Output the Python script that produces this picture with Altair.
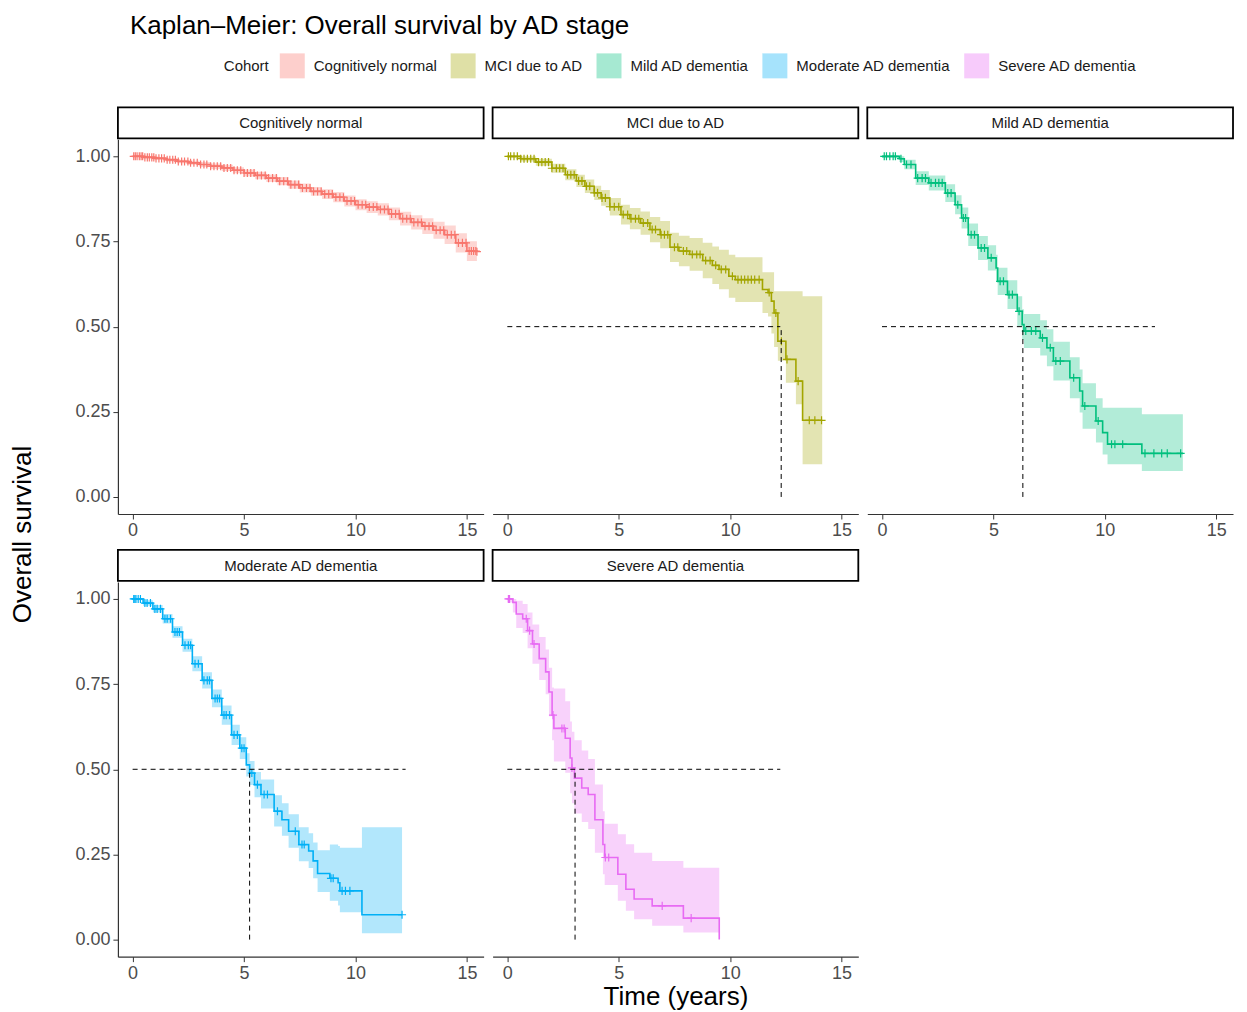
import altair as alt
import pandas as pd

FONT = "Liberation Sans"
COHORTS = ["Cognitively normal", "MCI due to AD", "Mild AD dementia",
           "Moderate AD dementia", "Severe AD dementia"]
COLORS = ["#F8766D", "#A3A500", "#00BF7D", "#00B0F6", "#E76BF3"]

# ---- Kaplan-Meier step curves: time, survival, lower CI, upper CI ----
cn_t = [0, 0.5, 1, 1.5, 2, 2.5, 3, 3.5, 4, 4.5, 5, 5.5, 6, 6.5, 7, 7.5, 8, 8.5, 9, 9.5,
        10, 10.5, 11, 11.5, 12, 12.5, 13, 13.5, 14, 14.5, 15, 15.45]
cn_s = [1.000, 0.997, 0.994, 0.990, 0.985, 0.981, 0.976, 0.971, 0.966, 0.959, 0.951, 0.944,
        0.936, 0.927, 0.917, 0.907, 0.897, 0.889, 0.880, 0.869, 0.858, 0.851, 0.844, 0.831,
        0.817, 0.806, 0.795, 0.783, 0.770, 0.746, 0.722, 0.720]
cn_lo = [0.998, 0.994, 0.990, 0.985, 0.980, 0.975, 0.969, 0.963, 0.957, 0.950, 0.941, 0.933,
         0.925, 0.915, 0.905, 0.894, 0.884, 0.875, 0.865, 0.853, 0.842, 0.834, 0.826, 0.812,
         0.797, 0.785, 0.772, 0.758, 0.743, 0.718, 0.693, 0.693]
cn_hi = [1.000, 1.000, 0.998, 0.995, 0.990, 0.987, 0.983, 0.979, 0.975, 0.968, 0.961, 0.955,
         0.947, 0.939, 0.929, 0.920, 0.910, 0.903, 0.895, 0.885, 0.874, 0.868, 0.862, 0.850,
         0.837, 0.827, 0.818, 0.808, 0.797, 0.774, 0.751, 0.751]

mci_t = [0, 0.6, 1.28, 2.0, 2.6, 3.1, 3.48, 3.9, 4.21, 4.6, 5.1, 5.5, 5.98, 6.4, 6.86, 7.3,
         7.7, 8.18, 8.77, 9.2, 9.5, 9.94, 10.23, 11.45, 11.7, 11.85, 11.97, 12.14, 12.5,
         12.95, 13.25, 14.13]
mci_s = [1.000, 0.993, 0.983, 0.965, 0.946, 0.928, 0.912, 0.893, 0.878, 0.852, 0.829, 0.817,
         0.804, 0.785, 0.770, 0.733, 0.722, 0.712, 0.694, 0.680, 0.668, 0.648, 0.638, 0.609,
         0.600, 0.575, 0.540, 0.457, 0.404, 0.340, 0.225, 0.225]
mci_lo = [0.995, 0.985, 0.972, 0.952, 0.930, 0.910, 0.892, 0.872, 0.855, 0.826, 0.800, 0.786,
          0.770, 0.748, 0.730, 0.690, 0.677, 0.664, 0.642, 0.625, 0.610, 0.585, 0.572, 0.540,
          0.530, 0.480, 0.440, 0.400, 0.335, 0.272, 0.096, 0.096]
mci_hi = [1.000, 1.000, 0.993, 0.978, 0.962, 0.946, 0.932, 0.914, 0.901, 0.878, 0.858, 0.848,
          0.838, 0.822, 0.810, 0.776, 0.767, 0.760, 0.746, 0.735, 0.726, 0.711, 0.704, 0.660,
          0.660, 0.660, 0.604, 0.604, 0.604, 0.604, 0.589, 0.589]

mild_t = [0, 0.78, 1.0, 1.51, 2.1, 2.84, 3.28, 3.57, 3.87, 4.31, 4.75, 5.12, 5.19, 5.63, 6.07,
          6.29, 6.37, 7.1, 7.4, 7.69, 8.43, 8.87, 9.0, 9.6, 9.9, 10.12, 11.66, 13.5]
mild_s = [1.000, 0.993, 0.976, 0.936, 0.922, 0.892, 0.858, 0.819, 0.770, 0.731, 0.702, 0.672,
          0.633, 0.594, 0.545, 0.506, 0.487, 0.467, 0.438, 0.399, 0.350, 0.311, 0.267, 0.223,
          0.189, 0.155, 0.128, 0.128]
mild_lo = [0.995, 0.983, 0.962, 0.916, 0.900, 0.866, 0.830, 0.788, 0.737, 0.696, 0.665, 0.633,
           0.593, 0.552, 0.501, 0.461, 0.437, 0.415, 0.384, 0.342, 0.290, 0.248, 0.200, 0.160,
           0.125, 0.096, 0.076, 0.076]
mild_hi = [1.000, 1.000, 0.990, 0.956, 0.944, 0.918, 0.886, 0.850, 0.803, 0.766, 0.739, 0.711,
           0.673, 0.636, 0.589, 0.551, 0.537, 0.519, 0.492, 0.456, 0.410, 0.374, 0.334, 0.290,
           0.262, 0.262, 0.243, 0.243]

mod_t = [0, 0.47, 0.91, 1.35, 1.79, 2.24, 2.68, 3.12, 3.56, 4.0, 4.44, 4.81, 5.1, 5.25, 5.47,
         5.76, 6.35, 6.7, 7.0, 7.46, 7.9, 8.1, 8.3, 8.85, 9.22, 9.3, 10.29, 12.09]
mod_s = [1.000, 0.988, 0.971, 0.942, 0.903, 0.864, 0.810, 0.761, 0.708, 0.659, 0.601, 0.562,
         0.513, 0.489, 0.455, 0.426, 0.377, 0.352, 0.318, 0.279, 0.260, 0.231, 0.194, 0.180,
         0.167, 0.143, 0.073, 0.073]
mod_lo = [0.996, 0.980, 0.960, 0.928, 0.886, 0.845, 0.788, 0.737, 0.682, 0.631, 0.571, 0.530,
          0.479, 0.454, 0.418, 0.385, 0.332, 0.305, 0.270, 0.230, 0.210, 0.180, 0.140, 0.114,
          0.100, 0.080, 0.019, 0.019]
mod_hi = [1.000, 0.996, 0.982, 0.956, 0.920, 0.883, 0.832, 0.785, 0.734, 0.687, 0.631, 0.594,
          0.547, 0.524, 0.492, 0.470, 0.424, 0.400, 0.368, 0.330, 0.312, 0.285, 0.262, 0.279,
          0.275, 0.270, 0.330, 0.330]

sev_t = [0, 0.25, 0.4, 0.69, 0.91, 1.13, 1.43, 1.72, 1.87, 2.01, 2.09, 2.6, 2.82, 2.9, 3.01,
         3.34, 3.63, 3.93, 4.29, 4.37, 4.96, 5.32, 5.69, 6.5, 7.9, 9.51]
sev_s = [1.000, 0.990, 0.956, 0.942, 0.907, 0.868, 0.825, 0.786, 0.727, 0.659, 0.620, 0.591,
         0.533, 0.504, 0.474, 0.445, 0.426, 0.352, 0.279, 0.241, 0.192, 0.148, 0.119, 0.099,
         0.063, 0.000]
sev_lo = [0.990, 0.960, 0.915, 0.900, 0.855, 0.810, 0.762, 0.720, 0.656, 0.585, 0.523, 0.490,
          0.430, 0.400, 0.370, 0.345, 0.325, 0.255, 0.192, 0.160, 0.114, 0.085, 0.060, 0.041,
          0.021, 0.000]
sev_hi = [1.000, 1.000, 0.995, 0.985, 0.960, 0.925, 0.888, 0.852, 0.798, 0.740, 0.737, 0.700,
          0.640, 0.610, 0.585, 0.555, 0.530, 0.455, 0.377, 0.340, 0.309, 0.280, 0.255, 0.231,
          0.211, 0.000]

# ---- censoring times (+ marks) ----
cn_c = [0.05, 0.12, 0.2, 0.3, 0.38, 0.45, 0.55, 0.66, 0.75, 0.86, 0.95, 1.05, 1.18, 1.3, 1.42,
        1.55, 1.67, 1.8, 1.92, 2.05, 2.2, 2.33, 2.48, 2.6, 2.75, 2.9, 3.05, 3.2, 3.33, 3.5,
        3.65, 3.8, 3.95, 4.1, 4.25, 4.4, 4.55, 4.7, 4.85, 5.0, 5.15, 5.3, 5.45, 5.6, 5.78,
        5.95, 6.1, 6.28, 6.45, 6.6, 6.78, 6.95, 7.1, 7.28, 7.45, 7.62, 7.8, 7.96, 8.12, 8.3,
        8.46, 8.62, 8.8, 8.96, 9.12, 9.3, 9.46, 9.62, 9.8, 9.96, 10.12, 10.3, 10.46, 10.62,
        10.8, 10.96, 11.12, 11.3, 11.46, 11.62, 11.8, 11.96, 12.12, 12.3, 12.46, 12.62, 12.8,
        12.96, 13.12, 13.3, 13.46, 13.62, 13.8, 13.96, 14.12, 14.3, 14.46, 14.62, 14.8, 14.96,
        15.1, 15.2, 15.3, 15.4, 15.45]
mci_c = [0.05, 0.15, 0.3, 0.45, 0.6, 0.75, 0.9, 1.05, 1.2, 1.4, 1.55, 1.7, 1.85, 2.0, 2.2,
         2.35, 2.5, 2.7, 2.85, 3.0, 3.2, 3.35, 3.55, 3.7, 3.9, 4.05, 4.25, 4.4, 4.6, 4.8, 5.0,
         5.2, 5.4, 5.55, 5.75, 5.9, 6.1, 6.3, 6.5, 6.65, 6.9, 7.05, 7.2, 7.5, 7.65, 7.9, 8.05,
         8.3, 8.5, 8.65, 8.9, 9.1, 9.35, 9.6, 9.8, 10.1, 10.35, 10.5, 10.65, 10.8, 10.95, 11.1,
         11.3, 11.75, 12.05, 12.3, 12.55, 13.05, 13.55, 13.8, 14.1]
mild_c = [0.1, 0.2, 0.35, 0.5, 0.6, 0.85, 1.1, 1.3, 1.6, 1.8, 1.95, 2.2, 2.4, 2.55, 2.7, 2.95,
          3.1, 3.4, 3.65, 3.75, 4.0, 4.15, 4.45, 4.6, 4.9, 5.3, 5.45, 5.7, 5.85, 6.15, 6.45,
          6.7, 6.9, 7.2, 7.55, 7.8, 8.0, 8.6, 9.1, 9.7, 10.3, 10.45, 10.8, 11.8, 12.2, 12.55,
          12.8, 13.4]
mod_c = [0.05, 0.1, 0.15, 0.25, 0.35, 0.55, 0.65, 0.8, 1.0, 1.1, 1.25, 1.45, 1.55, 1.7, 1.9,
         2.0, 2.1, 2.35, 2.5, 2.6, 2.8, 2.95, 3.2, 3.35, 3.45, 3.7, 3.8, 3.9, 4.1, 4.2, 4.35,
         4.55, 4.7, 4.9, 5.0, 5.35, 5.6, 5.9, 6.05, 6.5, 7.3, 7.6, 7.7, 8.9, 9.0, 9.4, 9.55,
         9.75, 12.09]
sev_c = [0.05, 0.1, 0.85, 1.0, 1.2, 2.05, 2.45, 2.55, 2.9, 4.4, 4.55, 6.95, 8.25]

# ---- medians (dashed reference lines) ----
MEDIANS = [None, 12.29, 6.32, 5.25, 3.04]
MEDIAN_H_END = 12.25

T = [cn_t, mci_t, mild_t, mod_t, sev_t]
S = [cn_s, mci_s, mild_s, mod_s, sev_s]
LO = [cn_lo, mci_lo, mild_lo, mod_lo, sev_lo]
HI = [cn_hi, mci_hi, mild_hi, mod_hi, sev_hi]
CENS = [cn_c, mci_c, mild_c, mod_c, sev_c]

W, H = 366, 375
CROSS = "M-1,0H1M0,-1V1"

fill_scale = alt.Scale(domain=COHORTS, range=COLORS)
stroke_scale = alt.Scale(domain=COHORTS, range=COLORS)
x_scale = alt.Scale(domain=[-0.66, 15.75], nice=False, zero=False)
y_scale = alt.Scale(domain=[-0.05, 1.05], nice=False, zero=False)

legend = alt.Legend(
    title="Cohort", orient="none", legendX=106, legendY=-86, direction="horizontal",
    titleOrient="left", titleFontSize=15, titleFontWeight="normal", titleFont=FONT,
    titleColor="#1a1a1a", titlePadding=10, labelFontSize=15, labelFont=FONT,
    labelColor="#1a1a1a", symbolType="square", symbolSize=625, symbolStrokeWidth=0,
    symbolOpacity=0.35, labelOffset=9, columnPadding=13,
)


def s_at(ts, ss, t):
    v = ss[0]
    for a, b in zip(ts, ss):
        if a <= t:
            v = b
    return v


def x_axis(title):
    return alt.Axis(values=[0, 5, 10, 15], format="d", title=title, grid=False,
                    labelFontSize=18, labelFont=FONT, labelColor="#4d4d4d",
                    tickColor="#333333", tickSize=5, labelPadding=3,
                    domainColor="#333333", domainWidth=1.2,
                    titleFontSize=26, titleFont=FONT, titleFontWeight="normal",
                    titleColor="black", titlePadding=1)


def y_axis(title):
    if title:
        return alt.Axis(values=[0, 0.25, 0.5, 0.75, 1.0], format=".2f", title=title, grid=False,
                        labelFontSize=18, labelFont=FONT, labelColor="#4d4d4d",
                        tickColor="#333333", tickSize=5, labelPadding=3,
                        domainColor="#333333", domainWidth=1.2,
                        titleFontSize=26, titleFont=FONT, titleFontWeight="normal",
                        titleColor="black", titleX=-82, titleY=395, titleAngle=270)
    return alt.Axis(values=[0, 0.25, 0.5, 0.75, 1.0], format=".2f", title=None, grid=False,
                    labelFontSize=18, labelFont=FONT, labelColor="#4d4d4d",
                    tickColor="#333333", tickSize=5, labelPadding=3,
                    domainColor="#333333", domainWidth=1.2)


def panel(i, show_y, x_title=None, y_title=None):
    name = COHORTS[i]
    xa = x_axis(x_title)
    ya = y_axis(y_title) if show_y else None

    def X(f):
        return alt.X(f, scale=x_scale, axis=xa)

    def Y(f):
        return alt.Y(f, scale=y_scale, axis=ya)

    curve = pd.DataFrame({"t": T[i], "s": S[i], "lo": LO[i], "hi": HI[i], "cohort": name})
    cens = pd.DataFrame({"t": CENS[i], "s": [s_at(T[i], S[i], c) for c in CENS[i]],
                         "cohort": name})
    band = alt.Chart(curve).mark_area(interpolate="step-after", opacity=0.3).encode(
        x=X("t:Q"), y=Y("lo:Q"), y2="hi:Q",
        fill=alt.Fill("cohort:N", scale=fill_scale, legend=legend))
    line = alt.Chart(curve).mark_line(interpolate="step-after", strokeWidth=1.6).encode(
        x=X("t:Q"), y=Y("s:Q"),
        stroke=alt.Stroke("cohort:N", scale=stroke_scale, legend=None))
    pts = alt.Chart(cens).mark_point(shape=CROSS, size=65, filled=False, strokeWidth=1.2,
                                     opacity=1).encode(
        x=X("t:Q"), y=Y("s:Q"),
        stroke=alt.Stroke("cohort:N", scale=stroke_scale, legend=None))
    layers = [band, line, pts]
    if MEDIANS[i] is not None:
        hdf = pd.DataFrame({"x0": [0.0], "x1": [MEDIAN_H_END], "yv": [0.5]})
        vdf = pd.DataFrame({"m": [MEDIANS[i]], "y0": [0.0], "y1": [0.5]})
        h = alt.Chart(hdf).mark_rule(strokeDash=[5, 4], color="black", strokeWidth=1).encode(
            x=X("x0:Q"), x2="x1:Q", y=Y("yv:Q"))
        v = alt.Chart(vdf).mark_rule(strokeDash=[5, 4], color="black", strokeWidth=1).encode(
            x=X("m:Q"), y=Y("y0:Q"), y2="y1:Q")
        layers += [h, v]
    lab = pd.DataFrame({"lab": [name]})
    strip = alt.Chart(lab).mark_rect(fill="white", stroke="black", strokeWidth=1.8).encode(
        x=alt.value(0), x2=alt.value(W), y=alt.value(-32), y2=alt.value(-1))
    stext = alt.Chart(lab).mark_text(font=FONT, fontSize=15, color="#1a1a1a",
                                     baseline="middle", align="center").encode(
        x=alt.value(W / 2), y=alt.value(-16), text="lab:N")
    layers += [strip, stext]
    return alt.layer(*layers).properties(width=W, height=H)


chart = alt.concat(
    panel(0, True, y_title="Overall survival"), panel(1, False), panel(2, False),
    panel(3, True), panel(4, False, x_title="Time (years)"),
    columns=3, spacing={"row": 68, "column": 9}, bounds="flush",
).resolve_scale(
    fill="shared", stroke="shared"
).properties(
    title=alt.TitleParams("Kaplan–Meier: Overall survival by AD stage", anchor="start",
                          frame="group", dx=12, fontSize=26, fontWeight="normal", font=FONT,
                          color="black", offset=14),
    padding={"left": 2, "top": 5, "right": 5, "bottom": 2},
    background="white",
).configure_view(stroke=None)

chart.save("out.html", embed_options={"renderer": "svg", "actions": False})
